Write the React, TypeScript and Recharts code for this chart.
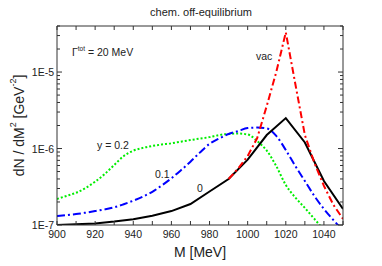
import { LineChart, Line, XAxis, YAxis, Label } from 'recharts';

// masses in MeV
const massBlack = [900, 910, 920, 930, 940, 950, 960, 970, 980, 990, 1000, 1010, 1020, 1030, 1040, 1050];
const y0 = [1.0e-7, 1.02e-7, 1.05e-7, 1.11e-7, 1.19e-7, 1.32e-7, 1.52e-7, 1.88e-7, 2.74e-7, 3.99e-7, 7.14e-7, 1.5e-6, 2.5e-6, 1.2e-6, 3.76e-7, 1.62e-7];

const massVac = [990, 995, 1000, 1005, 1010, 1015, 1020, 1025, 1030, 1035, 1040, 1045, 1050];
const vac = [3.99e-7, 5.48e-7, 7.98e-7, 1.37e-6, 3.6e-6, 1.0e-5, 3.3e-5, 6.97e-6, 1.5e-6, 6.5e-7, 3.24e-7, 1.83e-7, 1.2e-7];

const massFine = [900, 905, 910, 915, 920, 925, 930, 935, 940, 945, 950, 955, 960, 965, 970, 975, 980, 985, 990, 995, 1000, 1005, 1010, 1015, 1020, 1025, 1030, 1035, 1040, 1045, 1050];
const y01 = [1.31e-7, 1.35e-7, 1.39e-7, 1.45e-7, 1.52e-7, 1.6e-7, 1.7e-7, 1.87e-7, 2.08e-7, 2.35e-7, 2.72e-7, 3.3e-7, 4.08e-7, 5.2e-7, 6.72e-7, 8.9e-7, 1.15e-6, 1.35e-6, 1.55e-6, 1.69e-6, 1.85e-6, 1.88e-6, 1.83e-6, 1.46e-6, 9.56e-7, 5.9e-7, 3.76e-7, 2.39e-7, 1.62e-7, 1.16e-7, 8.5e-8];
const y02 = [2.19e-7, 2.4e-7, 2.64e-7, 3.05e-7, 3.68e-7, 4.64e-7, 6.09e-7, 7.98e-7, 9.36e-7, 1.02e-6, 1.08e-6, 1.13e-6, 1.17e-6, 1.23e-6, 1.29e-6, 1.35e-6, 1.41e-6, 1.5e-6, 1.55e-6, 1.57e-6, 1.53e-6, 1.25e-6, 9.4e-7, 5.9e-7, 3.33e-7, 2.29e-7, 1.67e-7, 1.2e-7, 8.6e-8, null, null];

const xTicks = [900, 910, 920, 930, 940, 950, 960, 970, 980, 990, 1000, 1010, 1020, 1030, 1040, 1050];
const yTicks = [
  1e-7, 2e-7, 3e-7, 4e-7, 5e-7, 6e-7, 7e-7, 8e-7, 9e-7,
  1e-6, 2e-6, 3e-6, 4e-6, 5e-6, 6e-6, 7e-6, 8e-6, 9e-6,
  1e-5, 2e-5, 3e-5, 4e-5,
];
const yLabels: Record<string, string> = { '1e-7': '1E-7', '0.000001': '1E-6', '0.00001': '1E-5' };

const toRows = (xs: number[], ys: (number | null)[]) => xs.map((m, i) => ({ m, v: ys[i] }));

const FONT = '"Liberation Sans", Arial, sans-serif';
const AX = '#333';

const isMajor = (v: number) => {
  const l = Math.log10(v);
  return Math.abs(l - Math.round(l)) < 1e-6;
};

const BottomTick = (props: any) => {
  const { x, y, payload } = props;
  const v = payload.value;
  return (
    <g>
      <line x1={x} x2={x} y1={y} y2={y - 4} stroke={AX} />
      {v % 20 === 0 && (
        <text x={x} y={y + 13} textAnchor="middle" fontSize={10.5} fill="#222" fontFamily={FONT}>
          {v}
        </text>
      )}
    </g>
  );
};

const TopTick = (props: any) => {
  const { x, y } = props;
  return <line x1={x} x2={x} y1={y} y2={y + 4} stroke={AX} />;
};

const LeftTick = (props: any) => {
  const { x, y, payload } = props;
  const v = payload.value;
  const major = isMajor(v);
  const lbl = yLabels[String(v)];
  return (
    <g>
      <line x1={x} x2={x + (major ? 5 : 3)} y1={y} y2={y} stroke={AX} />
      {lbl && (
        <text x={x - 3} y={y + 4} textAnchor="end" fontSize={10.5} fill="#222" fontFamily={FONT}>
          {lbl}
        </text>
      )}
    </g>
  );
};

const RightTick = (props: any) => {
  const { x, y, payload } = props;
  const major = isMajor(payload.value);
  return <line x1={x} x2={x - (major ? 5 : 3)} y1={y} y2={y} stroke={AX} />;
};

const YTitle = (props: any) => {
  const vb = props.viewBox;
  const cx = vb.x + 20;
  const cy = vb.y + vb.height / 2;
  return (
    <text
      x={cx}
      y={cy}
      transform={`rotate(-90 ${cx} ${cy})`}
      textAnchor="middle"
      fontSize={14}
      fill="#222"
      fontFamily={FONT}
      dominantBaseline="middle"
    >
      dN / dM<tspan dy={-6} fontSize={9}>2</tspan>
      <tspan dy={6}> [GeV</tspan>
      <tspan dy={-6} fontSize={9}>-2</tspan>
      <tspan dy={6}>]</tspan>
    </text>
  );
};

export default function App() {
  return (
    <div style={{ position: 'fixed', left: 0, top: 0, background: '#fff' }}>
      <LineChart width={382} height={266} margin={{ top: 25, right: 38, bottom: 0, left: 0 }}>
        <XAxis
          dataKey="m"
          type="number"
          domain={[900, 1050]}
          ticks={xTicks}
          interval={0}
          allowDataOverflow
          height={41}
          tickSize={0}
          tickMargin={0}
          tickLine={false}
          tick={<BottomTick />}
          stroke={AX}
        >
          <Label
            content={(p: any) => (
              <text
                x={p.viewBox.x + p.viewBox.width / 2}
                y={p.viewBox.y + 32}
                textAnchor="middle"
                fontSize={14}
                fill="#222"
                fontFamily={FONT}
              >
                M [MeV]
              </text>
            )}
          />
        </XAxis>
        <XAxis
          xAxisId="top"
          orientation="top"
          dataKey="m"
          type="number"
          domain={[900, 1050]}
          ticks={xTicks}
          interval={0}
          allowDataOverflow
          height={1}
          tickSize={0}
          tickMargin={0}
          tickLine={false}
          tick={<TopTick />}
          stroke={AX}
        />
        <YAxis
          scale="log"
          type="number"
          domain={[1e-7, 4e-5]}
          ticks={yTicks}
          interval={0}
          allowDataOverflow
          width={57}
          tickSize={0}
          tickMargin={0}
          tickLine={false}
          tick={<LeftTick />}
          stroke={AX}
        >
          <Label content={<YTitle />} />
        </YAxis>
        <YAxis
          yAxisId="right"
          orientation="right"
          scale="log"
          type="number"
          domain={[1e-7, 4e-5]}
          ticks={yTicks}
          interval={0}
          allowDataOverflow
          width={1}
          tickSize={0}
          tickMargin={0}
          tickLine={false}
          tick={<RightTick />}
          stroke={AX}
        />
        <Line data={toRows(massFine, y02)} dataKey="v" type="monotone" stroke="#00ee00" strokeWidth={2} strokeDasharray="2 2" dot={false} isAnimationActive={false} />
        <Line data={toRows(massFine, y01)} dataKey="v" type="monotone" stroke="#0000ff" strokeWidth={2} strokeDasharray="8 3 2 3" dot={false} isAnimationActive={false} />
        <Line data={toRows(massBlack, y0)} dataKey="v" type="linear" stroke="#000" strokeWidth={2} dot={false} isAnimationActive={false} />
        <Line data={toRows(massVac, vac)} dataKey="v" type="linear" stroke="#ff0000" strokeWidth={2} strokeDasharray="7 3 2 3" dot={false} isAnimationActive={false} />
        <text x={201} y={16} textAnchor="middle" fontSize={11} fill="#222" fontFamily={FONT}>
          chem. off-equilibrium
        </text>
        <text x={72} y={56} fontSize={10.5} fill="#222" fontFamily={FONT}>
          Γ<tspan dy={-5} fontSize={6.5}>tot</tspan>
          <tspan dy={5}> = 20 MeV</tspan>
        </text>
        <text x={256} y={60} fontSize={10.5} fill="#222" fontFamily={FONT}>vac</text>
        <text x={97} y={149} fontSize={10.5} fill="#222" fontFamily={FONT}>y = 0.2</text>
        <text x={155} y={178} fontSize={10.5} fill="#222" fontFamily={FONT}>0.1</text>
        <text x={197} y={192} fontSize={10.5} fill="#222" fontFamily={FONT}>0</text>
      </LineChart>
    </div>
  );
}
